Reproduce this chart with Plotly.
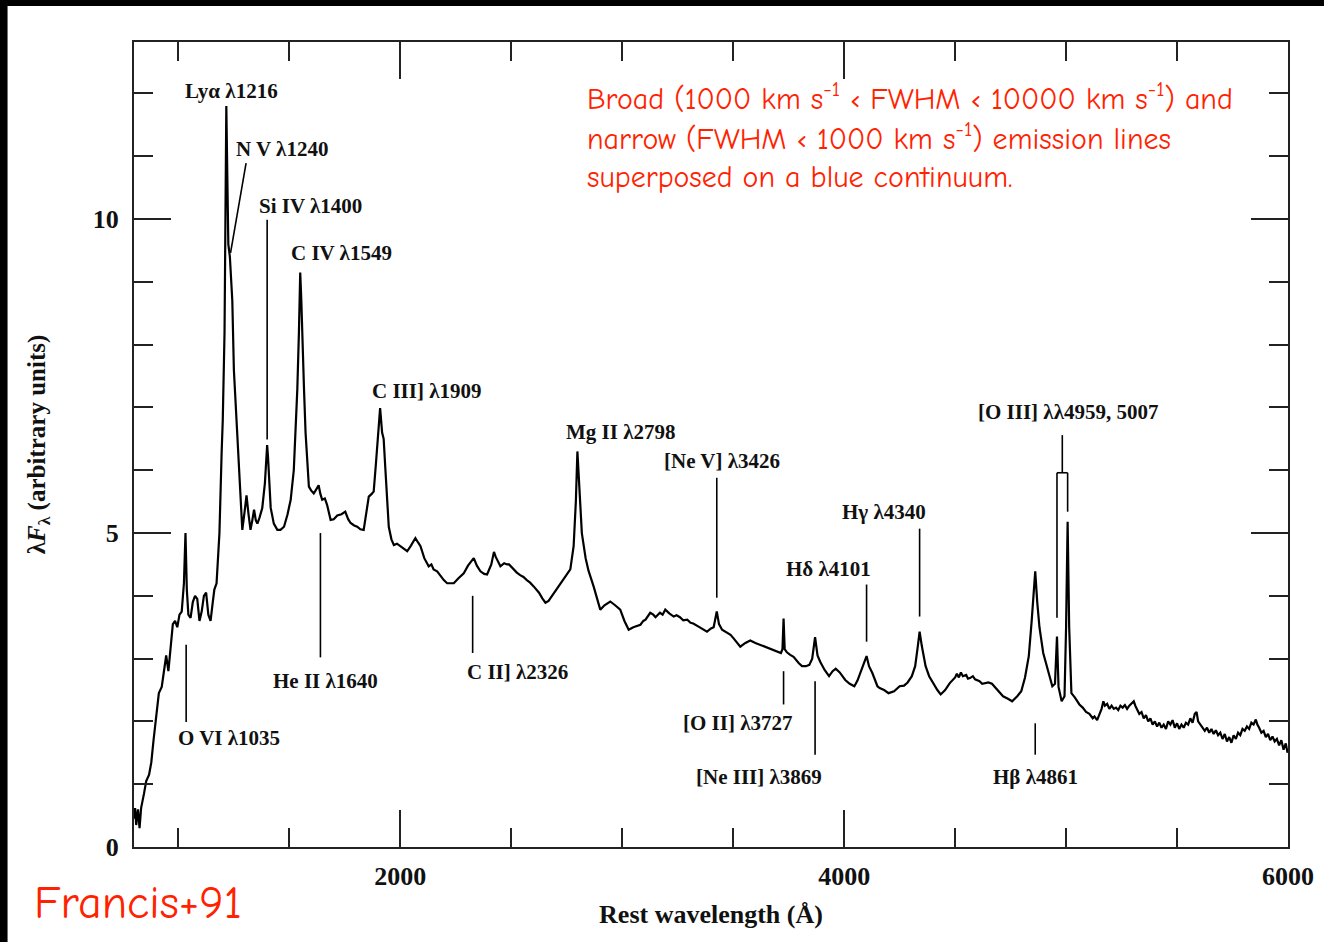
import plotly.graph_objects as go

# ---------------- spectrum (rest wavelength in Angstrom, lambda F_lambda arbitrary units)
wave = [800, 805, 810, 818, 825, 832, 845, 855, 868, 878, 888, 900, 912, 925, 935, 945, 955, 965, 975, 985,
        995, 1005, 1015, 1025, 1032, 1038, 1045, 1055, 1065, 1075, 1085, 1095, 1105, 1115, 1125, 1135, 1145,
        1155, 1162, 1172, 1180, 1185, 1195, 1200, 1208, 1212, 1216, 1220, 1225, 1232, 1238, 1243, 1250, 1265,
        1280, 1288, 1297, 1307, 1316, 1325, 1333, 1341, 1349, 1356, 1366, 1378, 1390, 1396, 1400, 1404, 1410,
        1416, 1430, 1446, 1460, 1476, 1492, 1506, 1520, 1528, 1536, 1543, 1549, 1554, 1558, 1566, 1573, 1582,
        1588, 1598, 1610, 1622, 1632, 1640, 1648, 1660, 1670, 1686, 1700, 1716, 1735, 1752, 1765, 1776, 1792,
        1806, 1820, 1835, 1846, 1858, 1870, 1880, 1890, 1900, 1909, 1918, 1925, 1932, 1940, 1948, 1960, 1971,
        1985, 2001, 2015, 2031, 2048, 2068, 2080, 2091, 2108, 2128, 2140, 2150, 2166, 2181, 2196, 2211, 2225,
        2241, 2262, 2286, 2305, 2320, 2331, 2345, 2361, 2378, 2391, 2410, 2422, 2430, 2451, 2468, 2481, 2490,
        2510, 2525, 2540, 2555, 2570, 2585, 2601, 2625, 2640, 2654, 2668, 2691, 2712, 2736, 2752, 2766, 2781,
        2791, 2798, 2806, 2818, 2835, 2848, 2871, 2888, 2901, 2920, 2946, 2968, 2991, 3010, 3029, 3050, 3065,
        3082, 3095, 3105, 3126, 3140, 3150, 3170, 3182, 3194, 3212, 3232, 3245, 3260, 3275, 3293, 3308, 3320,
        3344, 3365, 3382, 3400, 3412, 3426, 3436, 3450, 3470, 3488, 3500, 3512, 3532, 3555, 3577, 3600, 3622,
        3635, 3650, 3668, 3682, 3700, 3715, 3722, 3727, 3732, 3742, 3757, 3772, 3795, 3810, 3828, 3843, 3856,
        3869, 3880, 3892, 3912, 3932, 3948, 3962, 3980, 4005, 4025, 4046, 4060, 4072, 4082, 4101, 4112, 4127,
        4150, 4160, 4180, 4200, 4225, 4250, 4270, 4286, 4305, 4320, 4332, 4340, 4350, 4367, 4383, 4400, 4420,
        4435, 4455, 4476, 4490, 4500, 4508, 4517, 4526, 4535, 4550, 4558, 4567, 4580, 4590, 4600, 4610, 4622,
        4633, 4650, 4666, 4690, 4716, 4738, 4757, 4780, 4798, 4815, 4832, 4845, 4853, 4861, 4870, 4880, 4897,
        4915, 4938, 4950, 4959, 4966, 4980, 4993, 5000, 5007, 5014, 5024, 5040, 5060, 5075, 5090, 5105, 5120,
        5128, 5140, 5150, 5160, 5168, 5175, 5185, 5195, 5205, 5215, 5225, 5235, 5245, 5255, 5265, 5275, 5285,
        5295, 5305, 5312, 5320, 5330, 5340, 5350, 5360, 5370, 5380, 5390, 5400, 5410, 5420, 5430, 5440, 5450,
        5460, 5470, 5480, 5490, 5500, 5510, 5520, 5530, 5540, 5550, 5560, 5570, 5580, 5588, 5595, 5605, 5615,
        5625, 5635, 5645, 5655, 5665, 5675, 5685, 5695, 5705, 5715, 5725, 5735, 5745, 5755, 5765, 5775, 5785,
        5795, 5805, 5815, 5825, 5835, 5845, 5855, 5862, 5870, 5880, 5890, 5900, 5910, 5920, 5930, 5940, 5950,
        5960, 5970, 5980, 5990, 5998]
flux = [0.45, 0.62, 0.35, 0.60, 0.30, 0.62, 0.85, 1.05, 1.15, 1.35, 1.70, 2.10, 2.45, 2.55, 2.85, 3.05, 2.80,
        3.15, 3.55, 3.60, 3.50, 3.70, 3.75, 4.20, 5.00, 4.10, 3.70, 3.65, 3.90, 4.00, 3.95, 3.60, 3.75, 4.00,
        4.05, 3.70, 3.60, 3.90, 4.10, 4.20, 4.70, 5.00, 6.30, 6.80, 8.20, 9.60, 11.80, 10.80, 9.60, 9.40, 9.10,
        8.70, 7.60, 6.60, 5.55, 5.05, 5.30, 5.60, 5.30, 5.05, 5.20, 5.37, 5.20, 5.15, 5.25, 5.40, 5.80, 6.20,
        6.40, 6.20, 5.75, 5.40, 5.15, 5.05, 5.05, 5.10, 5.30, 5.53, 6.00, 6.59, 7.30, 8.18, 9.15, 8.70, 8.15,
        7.30, 6.60, 6.00, 5.74, 5.68, 5.63, 5.70, 5.76, 5.62, 5.53, 5.55, 5.45, 5.21, 5.22, 5.28, 5.30, 5.34,
        5.22, 5.16, 5.12, 5.10, 5.06, 5.05, 5.30, 5.58, 5.62, 5.66, 6.10, 6.60, 6.99, 6.60, 6.50, 6.06, 5.50,
        5.10, 4.90, 4.81, 4.83, 4.79, 4.76, 4.71, 4.80, 4.92, 4.85, 4.79, 4.60, 4.47, 4.50, 4.42, 4.39, 4.31,
        4.25, 4.20, 4.20, 4.20, 4.28, 4.36, 4.48, 4.55, 4.60, 4.48, 4.39, 4.35, 4.34, 4.50, 4.70, 4.62, 4.47,
        4.52, 4.50, 4.50, 4.42, 4.37, 4.33, 4.30, 4.25, 4.21, 4.15, 4.05, 3.96, 3.89, 3.92, 4.04, 4.15, 4.26,
        4.35, 4.42, 4.79, 5.50, 6.30, 5.70, 5.00, 4.60, 4.40, 4.15, 3.95, 3.78, 3.85, 3.91, 3.85, 3.78, 3.60,
        3.46, 3.50, 3.52, 3.54, 3.60, 3.62, 3.73, 3.70, 3.66, 3.73, 3.70, 3.78, 3.72, 3.67, 3.69, 3.66, 3.61,
        3.62, 3.57, 3.56, 3.51, 3.47, 3.43, 3.48, 3.50, 3.75, 3.55, 3.46, 3.42, 3.38, 3.33, 3.28, 3.19, 3.25,
        3.29, 3.25, 3.22, 3.20, 3.18, 3.16, 3.14, 3.12, 3.09, 3.15, 3.64, 3.15, 3.10, 3.06, 3.03, 2.93, 2.88,
        2.88, 2.90, 3.00, 3.34, 3.05, 2.95, 2.82, 2.72, 2.80, 2.84, 2.78, 2.66, 2.60, 2.56, 2.65, 2.77, 2.85,
        3.04, 2.88, 2.77, 2.56, 2.53, 2.50, 2.45, 2.48, 2.56, 2.57, 2.62, 2.72, 2.88, 3.20, 3.43, 3.20, 2.88,
        2.72, 2.61, 2.50, 2.43, 2.50, 2.61, 2.66, 2.70, 2.76, 2.70, 2.78, 2.72, 2.74, 2.68, 2.69, 2.72, 2.67,
        2.66, 2.64, 2.60, 2.61, 2.62, 2.60, 2.50, 2.40, 2.36, 2.32, 2.40, 2.48, 2.70, 3.04, 3.60, 4.00, 4.39,
        3.90, 3.50, 3.09, 2.85, 2.56, 2.60, 3.35, 2.55, 2.32, 2.40, 3.50, 5.18, 3.50, 2.45, 2.38, 2.27, 2.22,
        2.15, 2.12, 2.05, 2.08, 2.02, 2.12, 2.20, 2.32, 2.25, 2.28, 2.20, 2.25, 2.20, 2.22, 2.18, 2.25, 2.22,
        2.26, 2.20, 2.25, 2.28, 2.32, 2.25, 2.20, 2.12, 2.15, 2.05, 2.10, 2.00, 2.05, 1.95, 2.00, 1.92, 1.98,
        1.90, 1.95, 1.88, 2.00, 1.95, 2.02, 1.90, 1.97, 1.88, 1.95, 1.90, 1.98, 1.95, 2.05, 1.98, 2.12, 2.15,
        2.00, 1.95, 1.88, 1.85, 1.90, 1.82, 1.88, 1.80, 1.86, 1.78, 1.82, 1.72, 1.80, 1.68, 1.75, 1.66, 1.78,
        1.72, 1.82, 1.78, 1.88, 1.85, 1.92, 1.88, 1.98, 1.95, 2.03, 1.95, 1.90, 1.82, 1.85, 1.75, 1.80, 1.70,
        1.76, 1.68, 1.72, 1.62, 1.70, 1.55, 1.65, 1.50]

# ---------------- line identification markers (vertical ticks): x, y_top, y_bottom
mark_x = [1035, 1400, 1640, 2326, 3426, 3727, 3869, 4101, 4340, 4861]
mark_top = [3.22, 9.99, 5.00, 4.00, 5.88, 2.80, 2.64, 4.18, 5.07, 1.97]
mark_bot = [1.99, 6.49, 3.02, 3.09, 3.97, 2.27, 1.47, 3.27, 3.67, 1.47]
# N V diagonal pointer
nv_x = [1305, 1235]
nv_y = [10.89, 9.46]
# [O III] bracket: stem, bar, and legs to 4959 and 5007
oiii_x = [4983, 4983, None, 4959, 4959, None, 4959, 5007, None, 5007, 5007]
oiii_y = [6.56, 5.96, None, 5.96, 3.65, None, 5.96, 5.96, None, 5.96, 5.34]

# ---------------- line labels
lab_text = ["Lyα λ1216", "N V λ1240", "Si IV λ1400", "C IV λ1549", "C III] λ1909", "Mg II λ2798",
            "[Ne V] λ3426", "Hγ λ4340", "Hδ λ4101", "[O III] λλ4959, 5007", "O VI λ1035",
            "He II λ1640", "C II] λ2326", "[O II] λ3727", "[Ne III] λ3869", "Hβ λ4861"]
lab_x = [1239, 1469, 1595, 1735, 2122, 2991, 3451, 4181, 3928, 5009, 1230, 1662, 2527, 3518, 3617, 4861]
lab_y = [12.04, 11.12, 10.21, 9.46, 7.27, 6.61, 6.15, 5.34, 4.43, 6.92, 1.74, 2.65, 2.79, 1.98, 1.12, 1.12]

red_lines = ["Broad (1000 km s<sup>-1</sup> ‹ FWHM ‹ 10000 km s<sup>-1</sup>) and",
             "narrow (FWHM ‹ 1000 km s<sup>-1</sup>) emission lines",
             "superposed on a blue continuum."]

SERIF = "Liberation Serif, Times New Roman, serif"
RED = "#ff2200"
COMIC = "Comic Sans MS, Comic Neue, Lato, sans-serif"

fig = go.Figure()
fig.add_trace(go.Scatter(x=wave, y=flux, mode="lines",
                         line=dict(color="black", width=2.2), hoverinfo="skip"))

mx, my = [], []
for x, t, b in zip(mark_x, mark_top, mark_bot):
    mx += [x, x, None]
    my += [t, b, None]
mx += nv_x + [None] + oiii_x
my += nv_y + [None] + oiii_y
fig.add_trace(go.Scatter(x=mx, y=my, mode="lines",
                         line=dict(color="black", width=1.6), hoverinfo="skip"))

for t, x, y in zip(lab_text, lab_x, lab_y):
    fig.add_annotation(x=x, y=y, text="<b>" + t + "</b>", showarrow=False,
                       xanchor="center", yanchor="middle",
                       font=dict(family=SERIF, size=21, color="#111"))

red_y = [0.932, 0.882, 0.832]
for t, y in zip(red_lines, red_y):
    fig.add_annotation(xref="paper", yref="paper", x=0.391, y=y, text=t, showarrow=False,
                       xanchor="left", yanchor="middle",
                       font=dict(family=COMIC, size=30, color=RED))

fig.add_annotation(xref="paper", yref="paper", x=-0.088, y=-0.07, text="Francis+91",
                   showarrow=False, xanchor="left", yanchor="middle",
                   font=dict(family=COMIC, size=46, color=RED))

# dark scanner edge at top and left
fig.add_shape(type="rect", xref="paper", yref="paper", x0=-0.2, x1=1.1,
              y0=(847 - 6) / 805, y1=1.1, fillcolor="black", line_width=0, layer="above")
fig.add_shape(type="rect", xref="paper", yref="paper", x0=-0.2, x1=(7 - 133.5) / 1154.5,
              y0=-0.2, y1=1.1, fillcolor="black", line_width=0, layer="above")

axis_common = dict(showline=True, linecolor="#222", linewidth=2, mirror="allticks",
                   ticks="inside", tickcolor="#222", tickwidth=2, ticklen=37,
                   showgrid=False, zeroline=False,
                   tickfont=dict(family=SERIF, size=26, color="#111", weight="bold"))

fig.update_xaxes(range=[800, 6000], tick0=0, dtick=2000,
                 minor=dict(tick0=0, dtick=500, ticks="inside", ticklen=19, tickwidth=2,
                            tickcolor="#222", showgrid=False),
                 ticklabelstandoff=5,
                 title=dict(text="<b>Rest wavelength (Å)</b>",
                            font=dict(family=SERIF, size=26, color="#111"), standoff=15),
                 **axis_common)
fig.update_yaxes(range=[0, 12.82], tick0=0, dtick=5,
                 minor=dict(tick0=0, dtick=1, ticks="inside", ticklen=19, tickwidth=2,
                            tickcolor="#222", showgrid=False),
                 ticklabelstandoff=8,
                 title=dict(text="<b>λ<i>F</i><sub>λ</sub> (arbitrary units)</b>",
                            font=dict(family=SERIF, size=25, color="#111"), standoff=40),
                 **axis_common)

fig.update_layout(width=1324, height=942, autosize=False,
                  margin=dict(l=133.5, r=36, t=42, b=95, autoexpand=False),
                  paper_bgcolor="white", plot_bgcolor="white", showlegend=False)

fig.write_html("out.html")
